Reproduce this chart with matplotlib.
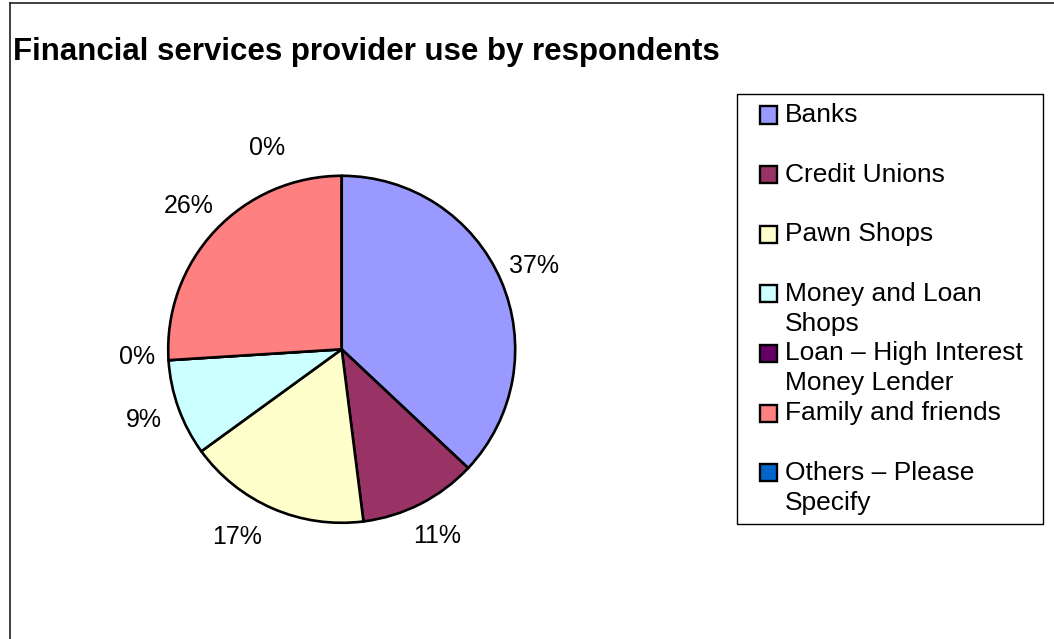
import matplotlib
matplotlib.use("Agg")
import matplotlib.pyplot as plt
from matplotlib.patches import Rectangle
from matplotlib.lines import Line2D
import numpy as np

plt.rcParams['font.family'] = ['Liberation Sans', 'DejaVu Sans']

# Survey data
categories = ["Banks", "Credit Unions", "Pawn Shops", "Money and Loan\nShops",
              "Loan \u2013 High Interest\nMoney Lender", "Family and friends",
              "Others \u2013 Please\nSpecify"]
shares = [37, 11, 17, 9, 0, 26, 0]
colors = ["#9999FF", "#993366", "#FFFFCC", "#CCFFFF", "#660066", "#FF8080", "#0066CC"]
title = "Financial services provider use by respondents"

W, H = 1054, 639
fig = plt.figure(figsize=(W / 100, H / 100), dpi=100)
fig.patch.set_facecolor("white")

def fx(px):
    return px / W

def fy(py):
    return 1 - py / H

# Chart-area border (left and top edges)
fig.add_artist(Line2D([fx(10), fx(10)], [fy(3), fy(H)], color="#202020", lw=1.2))
fig.add_artist(Line2D([fx(10), fx(W)], [fy(3), fy(3)], color="#202020", lw=1.2))

# Title
fig.text(fx(13), fy(52), title, fontsize=22.5, fontweight="bold",
         ha="left", va="center", color="black")

# Pie
cx, cy, R = 341.7, 349.3, 173.5
ax = fig.add_axes([fx(cx - R), fy(cy + R), 2 * R / W, 2 * R / H])
wedges, _ = ax.pie(shares, colors=colors, startangle=90, counterclock=False,
                   wedgeprops=dict(edgecolor="black", linewidth=1.9))
ax.set_xlim(-1, 1)
ax.set_ylim(-1, 1)
ax.set_aspect("auto")
ax.axis("off")

# Percentage labels around the pie; zero-size slices get nudged apart
nudge = {4: (0.03, 0.03), 6: (-0.43, -0.05), 2: (-0.12, 0.03)}
for i, (w, v) in enumerate(zip(wedges, shares)):
    ang = np.deg2rad((w.theta1 + w.theta2) / 2)
    x, y = 1.21 * np.cos(ang), 1.21 * np.sin(ang)
    dx, dy = nudge.get(i, (0, 0))
    ax.text(x + dx, y + dy, f"{v}%", fontsize=18, ha="center", va="center",
            color="black")

# Legend box
lx0, lx1, ly0, ly1 = 737, 1043, 94, 524
fig.add_artist(Rectangle((fx(lx0), fy(ly1)), fx(lx1 - lx0), (ly1 - ly0) / H,
                         transform=fig.transFigure, facecolor="white",
                         edgecolor="black", lw=1.0))
slot0, step, line_h = 115, 59.6, 30
sq = 17
for i, (lab, col) in enumerate(zip(categories, colors)):
    ys = slot0 + i * step
    fig.add_artist(Rectangle((fx(760), fy(ys + sq / 2)), sq / W, sq / H,
                             transform=fig.transFigure, facecolor=col,
                             edgecolor="black", lw=1.7))
    for j, line in enumerate(lab.split("\n")):
        fig.text(fx(785), fy(ys + j * line_h), line, fontsize=19,
                 ha="left", va="center", color="black")

fig.savefig("out.png", dpi=100, facecolor="white")
